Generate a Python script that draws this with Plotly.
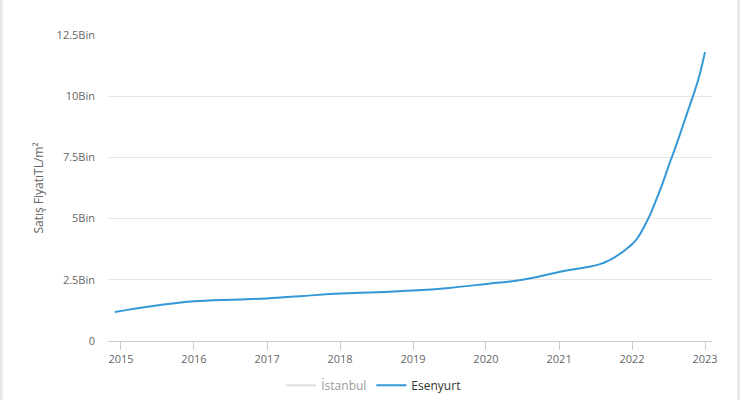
import plotly.graph_objects as go

dates = ["2014-12-01", "2015-06-01", "2016-01-01", "2016-07-01", "2017-01-01",
         "2017-07-01", "2018-01-01", "2018-07-01", "2019-01-01", "2019-07-01",
         "2020-01-01", "2020-07-01", "2021-01-01", "2021-04-01", "2021-06-01",
         "2021-08-01", "2021-10-01", "2021-11-01", "2021-12-01", "2022-01-01",
         "2022-02-01", "2022-03-01", "2022-04-01", "2022-05-01", "2022-06-01",
         "2022-07-01", "2022-08-01", "2022-09-01", "2022-10-01", "2022-11-01",
         "2022-12-01", "2023-01-01"]
esenyurt = [1185, 1420, 1620, 1690, 1740,
            1840, 1940, 1990, 2060, 2170,
            2330, 2500, 2820, 2950, 3030,
            3160, 3400, 3560, 3740, 3950,
            4250, 4650, 5150, 5750, 6400,
            7100, 7800, 8520, 9250, 9980,
            10750, 11800]

y_tickvals = [0, 2500, 5000, 7500, 10000, 12500]
y_ticktext = ["0", "2.5Bin", "5Bin", "7.5Bin", "10Bin", "12.5Bin"]
x_tickvals = ["2015-01-01", "2016-01-01", "2017-01-01", "2018-01-01", "2019-01-01",
              "2020-01-01", "2021-01-01", "2022-01-01", "2023-01-01"]
x_ticktext = ["2015", "2016", "2017", "2018", "2019", "2020", "2021", "2022", "2023"]

fig = go.Figure()
fig.add_trace(go.Scatter(x=dates, y=esenyurt, name="İstanbul", mode="lines",
                         line=dict(color="#bbbbbb", width=2), visible="legendonly"))
fig.add_trace(go.Scatter(x=dates, y=esenyurt, name="Esenyurt", mode="lines",
                         line=dict(color="#3399d6", width=2, shape="spline", smoothing=1.0)))

fig.update_layout(
    width=740, height=400,
    margin=dict(l=108, r=28, t=35, b=59, autoexpand=False),
    paper_bgcolor="white", plot_bgcolor="white",
    font=dict(family="Open Sans, sans-serif", size=11, color="#666666"),
    showlegend=True,
    legend=dict(orientation="h", x=0.44, xanchor="center", y=-0.145, yanchor="middle",
                font=dict(size=12, color="#333333"), itemwidth=30),
    xaxis=dict(type="date", range=["2014-10-28", "2023-02-05"],
               tickvals=x_tickvals, ticktext=x_ticktext,
               showgrid=False, showline=True, linecolor="#cccccc", linewidth=1,
               ticks="outside", ticklen=8, tickcolor="#cccccc",
               tickfont=dict(size=11, color="#666666"), zeroline=False),
    yaxis=dict(range=[0, 12500], tickvals=y_tickvals, ticktext=y_ticktext,
               showgrid=True, gridcolor="#e6e6e6", gridwidth=1, zeroline=False,
               ticks="", tickfont=dict(size=11, color="#666666"), ticklabelstandoff=12,
               title=dict(text="Satış FiyatıTL/m²", font=dict(size=12, color="#666666"),
                          standoff=10)),
    shapes=[
        dict(type="line", xref="paper", yref="paper", x0=-0.1772, x1=-0.1772,
             y0=-0.2, y1=1.12, line=dict(color="#e8e8e8", width=3)),
        dict(type="line", xref="paper", yref="paper", x0=1.0439, x1=1.0439,
             y0=-0.2, y1=1.12, line=dict(color="#e8e8e8", width=3)),
    ],
)

fig.write_html("out.html")
